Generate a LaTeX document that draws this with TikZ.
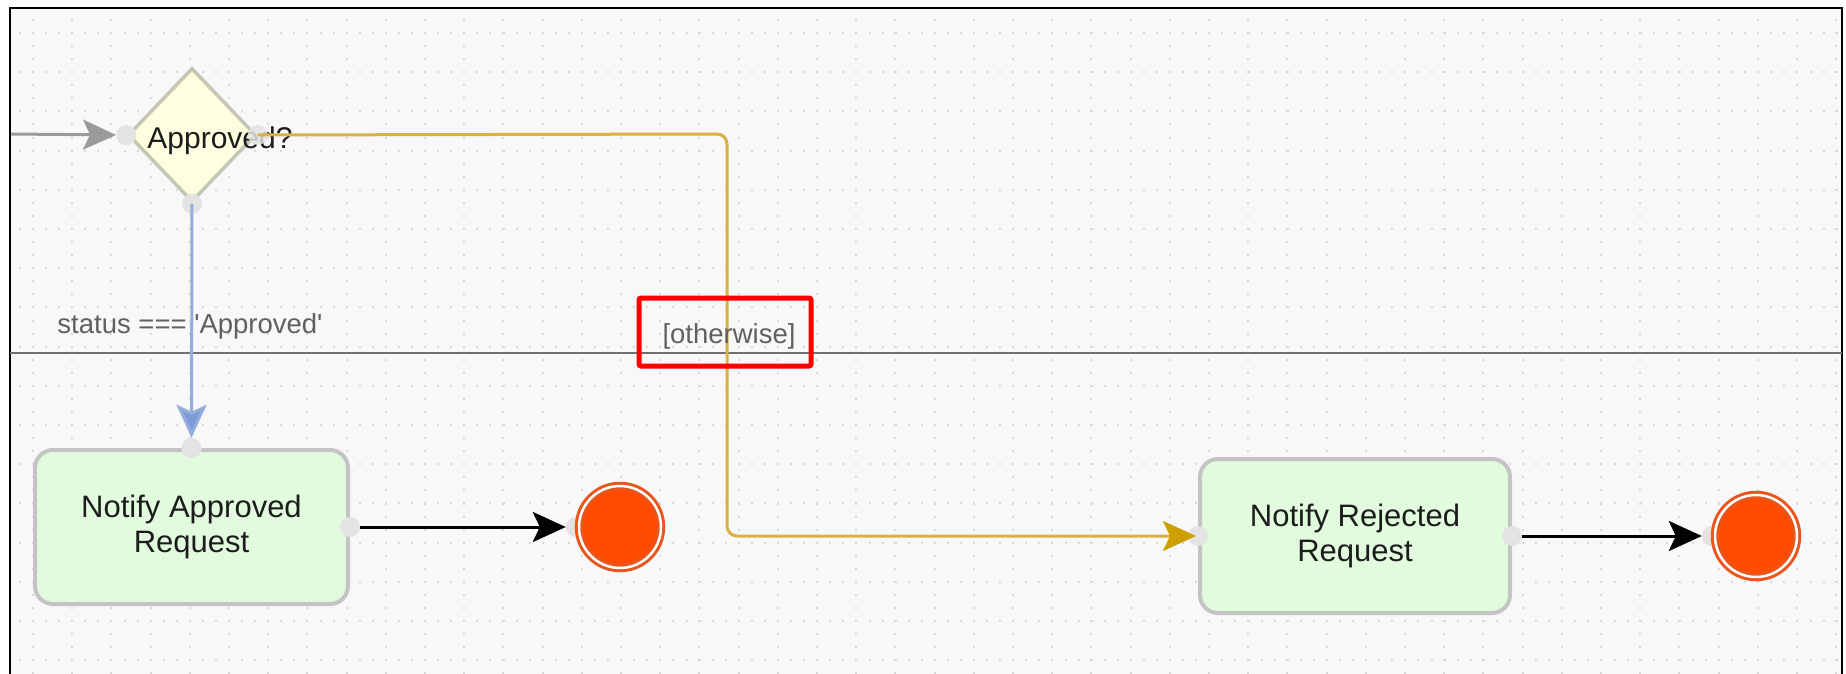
\documentclass[tikz,border=0pt]{standalone}
\usepackage{fontspec}
\setmainfont{Liberation Sans}
\usetikzlibrary{arrows.meta,shapes.geometric}
\definecolor{bgc}{HTML}{F8F8F8}
\definecolor{dotc}{HTML}{D8D8D8}
\definecolor{sepc}{HTML}{707070}
\definecolor{diamfill}{HTML}{FEFEE0}
\definecolor{diamdraw}{HTML}{C6C6B4}
\definecolor{taskfill}{HTML}{E2FBDF}
\definecolor{taskdraw}{HTML}{C4C4C4}
\definecolor{portc}{HTML}{E3E3E3}
\definecolor{grayar}{HTML}{9A9A9A}
\definecolor{bluel}{HTML}{93ADDC}
\definecolor{bluea}{HTML}{7C9AD6}
\definecolor{orangel}{HTML}{DAB040}
\definecolor{orangea}{HTML}{CBA000}
\definecolor{endc}{HTML}{FF4A00}
\definecolor{ringc}{HTML}{E8561E}
\definecolor{labc}{HTML}{606060}
\definecolor{txtc}{HTML}{1C1C1C}
\tikzset{
  diam/.style={diamond, draw=diamdraw, fill=diamfill, line width=3.5pt, minimum width=128pt, minimum height=134pt, inner sep=0pt},
  task/.style={rectangle, rounded corners=18pt, draw=taskdraw, fill=taskfill, line width=4pt, align=center, text=txtc, font=\fontsize{31}{35}\selectfont, inner sep=0pt},
  port/.style={circle, fill=portc, minimum size=20pt, inner sep=0pt},
  endev/.style={circle, fill=endc, draw=ringc, double=white, double distance=2.5pt, line width=3pt, minimum size=82pt, inner sep=0pt},
  lab/.style={text=labc, font=\fontsize{27.5}{30}\selectfont, inner sep=0pt, anchor=base},
  tip/.style={-{Stealth[length=33pt,width=30pt,inset=7pt]}},
  conn/.style={tip, line width=3pt},
  redbox/.style={rectangle, draw=red, line width=5pt, rounded corners=2pt, inner sep=0pt},
}
\begin{document}
\begin{tikzpicture}[x=1pt,y=-1pt]
\useasboundingbox (0,0) rectangle (1846,674);
\fill[white] (0,0) rectangle (1846,674);
\fill[bgc] (10,8) rectangle (1842,674);
\begin{scope}
\clip (10,8) rectangle (1842,674);
\foreach \i in {-1,...,16} {
  \draw[dotc, line width=2pt, dash pattern=on 2pt off 11.07pt] (-7.2,{33+39.2*\i}) -- (1850,{33+39.2*\i});
}
\foreach \j in {-1,...,46} {
  \draw[dotc, line width=2pt, dash pattern=on 2pt off 11.07pt] ({33+39.2*\j},-7.2) -- ({33+39.2*\j},680);
}
\end{scope}
\draw[black, line width=2.5pt] (10,674) -- (10,8) -- (1842,8) -- (1842,674);
\draw[sepc, line width=1.5pt] (10,353) -- (1842,353);

% decision
\node[diam] (dec) at (192,135) {};
\node[font=\fontsize{30}{30}\selectfont, text=txtc, inner sep=0pt, anchor=base] (dectxt) at (220,148) {Approved?};
\node[port] (pw) at (dec.west) {};
\node[port, opacity=0.85] (pe) at (dec.east) {};
\node[port] (ps) at (dec.south) {};

% tasks
\node[task, minimum width=313pt, minimum height=154pt] (appr) at (191.5,527) {Notify Approved\\Request};
\node[task, minimum width=310pt, minimum height=154pt] (rej) at (1355,536) {Notify Rejected\\Request};
\node[port] (pat) at (appr.north) {};
\node[port] (par) at (appr.east) {};
\node[port] (prl) at (rej.west) {};
\node[port] (prr) at (rej.east) {};

% end events
\coordinate (e1c) at (620,527);
\coordinate (e2c) at (1756,536);
\node[port] (q1) at ([xshift=-44pt]e1c) {};
\node[port] (q2) at ([xshift=-44pt]e2c) {};
\node[endev] (e1) at (e1c) {};
\node[endev] (e2) at (e2c) {};

% connectors
\coordinate (inc) at (11,134);
\draw[conn, grayar] (inc) -- (pw.west);
\draw[conn, bluel, -{Stealth[length=33pt,width=30pt,inset=7pt,fill=bluea]}] (ps.center) -- (pat.north);
\coordinate (c1) at (727,134);
\coordinate (c2) at (727,536);
\draw[conn, orangel, rounded corners=10pt, -{Stealth[length=33pt,width=30pt,inset=7pt,fill=orangea,color=orangea]}] (pe.center) -- (c1) -- (c2) -- ([xshift=-2pt]prl.center);
\draw[conn, black] (par.east) -- (q1.west);
\draw[conn, black] (prr.east) -- (q2.west);

% labels
\node[lab] (lapp) at (190,333) {status === \textquotesingle Approved\textquotesingle};
\node[lab] (loth) at (729,343) {[otherwise]};
\node[redbox, minimum width=172pt, minimum height=68pt] (hl) at (725,332) {};
\end{tikzpicture}
\end{document}
